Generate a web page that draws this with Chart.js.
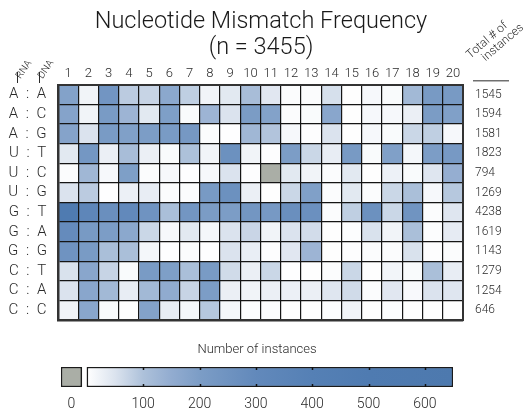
<!DOCTYPE html>
<html><head><meta charset="utf-8">
<script src="https://cdn.jsdelivr.net/npm/chart.js@4.4.1/dist/chart.umd.min.js"></script>
<style>html,body{margin:0;padding:0;background:#fff;overflow:hidden}canvas{display:block}</style>
</head><body>
<canvas id="c1" width="531" height="340"></canvas>
<canvas id="c2" width="531" height="69"></canvas>
<script>
// ---- data ----
const positions = ['1','2','3','4','5','6','7','8','9','10','11','12','13','14','15','16','17','18','19','20'];
const mismatches = ['A : A','A : C','A : G','U : T','U : C','U : G','G : T','G : A','G : G','C : T','C : A','C : C'];
const totals = ['1545','1594','1581','1823','794','1269','4238','1619','1143','1279','1254','646'];
const rowAA = [185,20,240,85,72,165,80,20,40,110,42,6,6,55,2,12,8,120,215,215];
const rowAC = [180,20,210,130,40,195,8,130,50,205,185,5,8,170,2,12,12,28,205,190];
const rowAG = [180,50,210,190,200,210,225,5,1,125,95,12,3,50,2,12,8,68,80,12];
const rowUT = [40,230,28,110,28,8,100,20,260,20,3,200,68,32,215,8,190,15,200,220];
const rowUC = [6,125,12,195,5,12,1,12,50,3,0,40,20,5,40,2,25,8,45,145];
const rowUG = [50,85,1,26,32,6,5,215,260,28,2,68,190,6,40,5,68,105,12,90];
const rowGT = [520,330,270,300,250,105,235,205,200,235,220,270,265,6,80,260,68,245,6,45];
const rowGA = [290,215,200,165,68,12,40,15,50,70,20,50,60,2,4,52,20,105,4,35];
const rowGG = [250,210,105,105,15,1,6,1,50,30,3,42,130,2,3,6,6,52,3,6];
const rowCT = [52,170,72,8,210,195,105,210,62,28,68,1,2,5,68,2,18,8,105,32];
const rowCA = [50,170,120,32,120,155,72,200,28,20,28,26,28,45,62,6,42,10,50,45];
const rowCC = [20,170,8,2,185,32,15,90,15,4,6,2,2,4,20,2,4,2,2,2];
const counts = [rowAA,rowAC,rowAG,rowUT,rowUC,rowUG,rowGT,rowGA,rowGG,rowCT,rowCA,rowCC];
const colorbarTicks = [0,100,200,300,400,500,600];
const colorMax = 650;

// ---- colour map ----
const stops = [[0,[255,255,255]],[50,[219,227,238]],[100,[173,193,218]],[150,[146,172,208]],[200,[124,157,198]],[300,[98,137,187]],[400,[85,128,181]],[500,[79,123,177]],[650,[77,121,174]]];
const zeroColor = '#aaaea6';
function colorFor(v){
  if (v === 0) return zeroColor;
  for (let i=1;i<stops.length;i++){
    if (v <= stops[i][0]){
      const [a,ca]=stops[i-1],[b,cb]=stops[i];
      const t=(v-a)/(b-a);
      const c=ca.map((x,k)=>Math.round(x+(cb[k]-x)*t));
      return `rgb(${c[0]},${c[1]},${c[2]})`;
    }
  }
  const c=stops[stops.length-1][1];return `rgb(${c[0]},${c[1]},${c[2]})`;
}

const FONT = "'Roboto','Liberation Sans',sans-serif";
const TXT = '#2a2a2a';
const GRID = '#151515';
const FRAME = '#333333';

// ---- decorations ----
const deco = {
  id:'deco',
  afterDraw(chart){
    const c = chart.ctx, r = chart.scales.yRight;
    c.save();
    c.fillStyle = TXT; c.strokeStyle = TXT; c.lineWidth = 1;
    c.font = `300 10px ${FONT}`;
    const hdr = [['RNA', 20, 80], ['DNA', 42, 80]];
    hdr.forEach(([t,x,yy])=>{
      c.save(); c.translate(x, yy); c.rotate(-0.31*Math.PI);
      c.textAlign='left'; c.textBaseline='alphabetic';
      c.fillText(t, 1, 0);
      c.restore();
      c.beginPath(); c.moveTo(x-2.5, yy-8); c.lineTo(x-2.5, yy+3); c.stroke();
    });
    c.font = `300 12px ${FONT}`;
    c.save(); c.translate(478, 68); c.rotate(-0.225*Math.PI);
    c.textAlign='left'; c.textBaseline='alphabetic';
    c.fillText('Total # of', 0, -12);
    c.fillText('instances', 10, 0);
    c.restore();
    c.beginPath(); c.moveTo(r.left+10, chart.chartArea.top-4); c.lineTo(r.left+46, chart.chartArea.top-4); c.stroke();
    c.restore();
  }
};

const datasets = positions.map((p, ci) => ({
  label: p,
  data: mismatches.map(() => 1),
  backgroundColor: counts.map(row => colorFor(row[ci])),
  borderWidth: 0,
  barPercentage: 1,
  categoryPercentage: 1,
  xAxisID: 'x', yAxisID: 'y'
}));

new Chart(document.getElementById('c1'), {
  type: 'bar',
  data: { labels: mismatches, datasets },
  options: {
    indexAxis: 'y',
    responsive: false, animation: false, devicePixelRatio: 1,
    layout: { padding: { left: 0, right: 9, top: 0, bottom: 0 } },
    plugins: {
      legend: { display: false }, tooltip: { enabled: false },
      title: { display: true, text: ['Nucleotide Mismatch Frequency', '(n = 3455)'],
        color: '#1a1a1a', font: { family: FONT, size: 23.5, weight: '300', lineHeight: 1.12 },
        padding: { top: 8.5, bottom: 0 } }
    },
    scales: {
      x: { type: 'linear', position: 'bottom', stacked: true, min: 0, max: positions.length,
        ticks: { display: false, stepSize: 1, maxTicksLimit: 100 },
        grid: { color: GRID, lineWidth: 1.2, drawTicks: false, z: 1 },
        border: { display: true, color: FRAME, width: 2.5, z: 2 },
        afterFit: s => { s.height = 12; } },
      xTop: { type: 'category', axis: 'x', position: 'top', labels: positions, offset: true,
        grid: { display: false, drawTicks: false },
        border: { display: true, color: FRAME, width: 2, z: 2 },
        ticks: { color: TXT, font: { family: FONT, size: 13, weight: '300' }, padding: 3, maxRotation: 0, autoSkip: false },
        afterFit: s => { s.height = 85 - 61.3; } },
      y: { type: 'category', position: 'left', stacked: true, offset: true,
        grid: { offset: true, color: GRID, lineWidth: 1.2, drawTicks: false, z: 1 },
        border: { display: true, color: FRAME, width: 2.5, z: 2 },
        ticks: { color: TXT, font: { family: FONT, size: 15, weight: '300' }, crossAlign: 'center', padding: 11, autoSkip: false,
          callback: function(v){ return this.getLabelForValue(v).replace(/ /g, '\u2002'); } },
        afterFit: s => { s.width = 58; } },
      yRight: { type: 'category', axis: 'y', position: 'right', labels: totals, offset: true,
        grid: { display: false, drawTicks: false },
        border: { display: true, color: FRAME, width: 2, z: 2 },
        ticks: { color: TXT, font: { family: FONT, size: 12, weight: '300' }, padding: 12, autoSkip: false },
        afterFit: s => { s.width = 59; } }
    }
  },
  plugins: [deco]
});

// ---- colour bar ----
const zeroSwatch = [-46, -9];
const cbTicks = {
  id: 'cbTicks',
  afterDatasetsDraw(chart){
    const c = chart.ctx, x = chart.scales.x, a = chart.chartArea;
    c.save(); c.strokeStyle = '#111'; c.lineWidth = 1.5;
    colorbarTicks.filter(v => v > 0).forEach(v => {
      const px = Math.round(x.getPixelForValue(v)) + 0.5;
      c.beginPath(); c.moveTo(px, a.top); c.lineTo(px, a.top + 3);
      c.moveTo(px, a.bottom - 3); c.lineTo(px, a.bottom); c.stroke();
    });
    c.restore();
  }
};
new Chart(document.getElementById('c2'), {
  type: 'bar',
  data: {
    labels: ['Number of instances'],
    datasets: [
      { data: [[0, colorMax]], borderColor: '#1a1a1a', borderWidth: 1.5, borderSkipped: false,
        barPercentage: 1, categoryPercentage: 1, grouped: false,
        backgroundColor: (ctx) => {
          const ch = ctx.chart; if (!ch.chartArea) return '#6289bb';
          const x = ch.scales.x;
          const g = ch.ctx.createLinearGradient(x.getPixelForValue(0), 0, x.getPixelForValue(colorMax), 0);
          stops.forEach(([v, col]) => g.addColorStop(v / colorMax, `rgb(${col[0]},${col[1]},${col[2]})`));
          return g;
        } },
      { data: [zeroSwatch], backgroundColor: zeroColor, borderColor: '#1a1a1a', borderWidth: 1.5, borderSkipped: false,
        barPercentage: 1, categoryPercentage: 1, grouped: false }
    ]
  },
  options: {
    indexAxis: 'y', responsive: false, animation: false, devicePixelRatio: 1,
    layout: { padding: { left: 61, right: 78, top: 0, bottom: 0 } },
    plugins: {
      legend: { display: false }, tooltip: { enabled: false },
      title: { display: true, text: 'Number of instances', color: TXT,
        font: { family: FONT, size: 13, weight: '300', lineHeight: 1.2 }, padding: { top: 2, bottom: 9.4 } }
    },
    scales: {
      x: { type: 'linear', min: zeroSwatch[0], max: colorMax,
        afterBuildTicks: s => { s.ticks = colorbarTicks.map(v => ({ value: v === 0 ? (zeroSwatch[0] + zeroSwatch[1]) / 2 : v })); },
        ticks: { color: TXT, font: { family: FONT, size: 14, weight: '300' }, padding: 9, maxRotation: 0,
          callback: (v) => v < 0 ? '0' : String(v) },
        grid: { display: false, drawTicks: false }, border: { display: false },
        afterFit: s => { s.height = 22; } },
      y: { display: false }
    }
  },
  plugins: [cbTicks]
});
</script>
</body></html>
